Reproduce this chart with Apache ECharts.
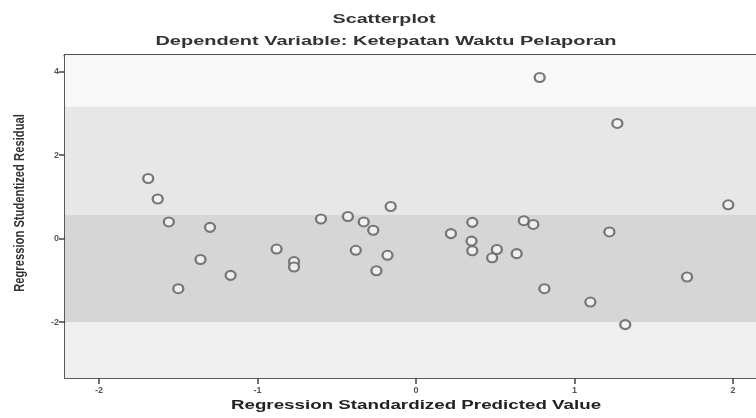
<!DOCTYPE html>
<html>
<head>
<meta charset="utf-8">
<script src="https://cdn.jsdelivr.net/npm/echarts@6/dist/echarts.min.js"></script>
<style>html,body{margin:0;padding:0;background:#fff}#c{width:756px;height:418px}</style>
</head>
<body>
<div id="c"></div>
<script>
const predicted = [-1.69, -1.63, -1.56, -1.30, -1.36, -1.17, -1.50, -0.88, -0.77, -0.77,
  -0.60, -0.43, -0.33, -0.27, -0.16, -0.38, -0.18, -0.25, 0.22, 0.355,
  0.35, 0.355, 0.51, 0.48, 0.635, 0.68, 0.74, 0.81, 0.78, 1.27,
  1.97, 1.22, 1.71, 1.10, 1.32];
const residual = [1.44, 0.95, 0.40, 0.27, -0.50, -0.88, -1.20, -0.25, -0.55, -0.68,
  0.47, 0.53, 0.40, 0.20, 0.77, -0.28, -0.40, -0.77, 0.12, 0.39,
  -0.06, -0.29, -0.26, -0.46, -0.36, 0.43, 0.34, -1.20, 3.86, 2.76,
  0.81, 0.16, -0.92, -1.52, -2.06];
const xTicks = [-2, -1, 0, 1, 2];
const yTicks = [-2, 0, 2, 4];
const bandEdges = [4.4, 3.16, 0.57, -2.01, -3.34];
const bandColors = ['#f8f8f8', '#e7e7e7', '#d6d6d6', '#efefef'];
const titleText = 'Scatterplot';
const subtitleText = 'Dependent Variable: Ketepatan Waktu Pelaporan';
const xName = 'Regression Standardized Predicted Value';
const yName = 'Regression Studentized Residual';

const points = predicted.map((x, i) => [x, residual[i]]);
const bands = [];
for (let i = 0; i < bandColors.length; i++) {
  bands.push([{ yAxis: bandEdges[i + 1], itemStyle: { color: bandColors[i] } }, { yAxis: bandEdges[i] }]);
}
const FONT = '"Liberation Sans", Arial, sans-serif';
const chart = echarts.init(document.getElementById('c'), null, { renderer: 'canvas' });
chart.setOption({
  animation: false,
  backgroundColor: '#ffffff',
  grid: { left: 65, top: 55, right: 0, bottom: 40, show: false },
  xAxis: [{
    type: 'value', min: -2.215, max: 2.145,
    axisLine: { show: true, onZero: false, lineStyle: { color: '#5a5a5a', width: 2 } },
    splitLine: { show: false },
    axisTick: { show: true, length: 6, inside: false, customValues: xTicks, lineStyle: { color: '#444', width: 1.5 } },
    axisLabel: { customValues: xTicks, fontSize: 9, fontWeight: 'bold', color: '#555', fontFamily: FONT, margin: 8 }
  }, {
    type: 'value', position: 'top', min: -2.215, max: 2.145,
    axisLine: { show: true, onZero: false, lineStyle: { color: '#505050', width: 3 } },
    splitLine: { show: false }, axisTick: { show: false }, axisLabel: { show: false }
  }],
  yAxis: {
    type: 'value', min: -3.34, max: 4.4,
    axisLine: { show: true, onZero: false, lineStyle: { color: '#5a5a5a', width: 2 } },
    splitLine: { show: false },
    axisTick: { show: true, length: 6, customValues: yTicks, lineStyle: { color: '#444', width: 1.5 } },
    axisLabel: { customValues: yTicks, fontSize: 9, fontWeight: 'bold', color: '#555', fontFamily: FONT, margin: 6 }
  },
  series: [{
    type: 'scatter',
    xAxisIndex: 0,
    data: points,
    symbol: 'circle',
    symbolSize: [10, 9],
    z: 5,
    itemStyle: { color: '#f2f2f2', borderColor: '#6a6a6a', borderWidth: 2.2, opacity: 0.9 },
    markArea: { silent: true, z: 1, label: { show: false }, data: bands }
  }],
  graphic: [
    { type: 'text', x: 384, y: 19, scaleX: 1.46, style: { text: titleText, font: 'bold 13.5px ' + FONT, fill: '#333', textAlign: 'center', textVerticalAlign: 'middle' } },
    { type: 'text', x: 386, y: 41, scaleX: 1.48, style: { text: subtitleText, font: 'bold 13.5px ' + FONT, fill: '#333', textAlign: 'center', textVerticalAlign: 'middle' } },
    { type: 'text', x: 416, y: 405, scaleX: 1.39, style: { text: xName, font: 'bold 13.5px ' + FONT, fill: '#222', textAlign: 'center', textVerticalAlign: 'middle' } },
    { type: 'text', x: 20, y: 203, rotation: Math.PI / 2, scaleX: 1.02, scaleY: 1.35, style: { text: yName, font: 'bold 11px ' + FONT, fill: '#333', textAlign: 'center', textVerticalAlign: 'middle' } }
  ]
});
</script>
</body>
</html>
